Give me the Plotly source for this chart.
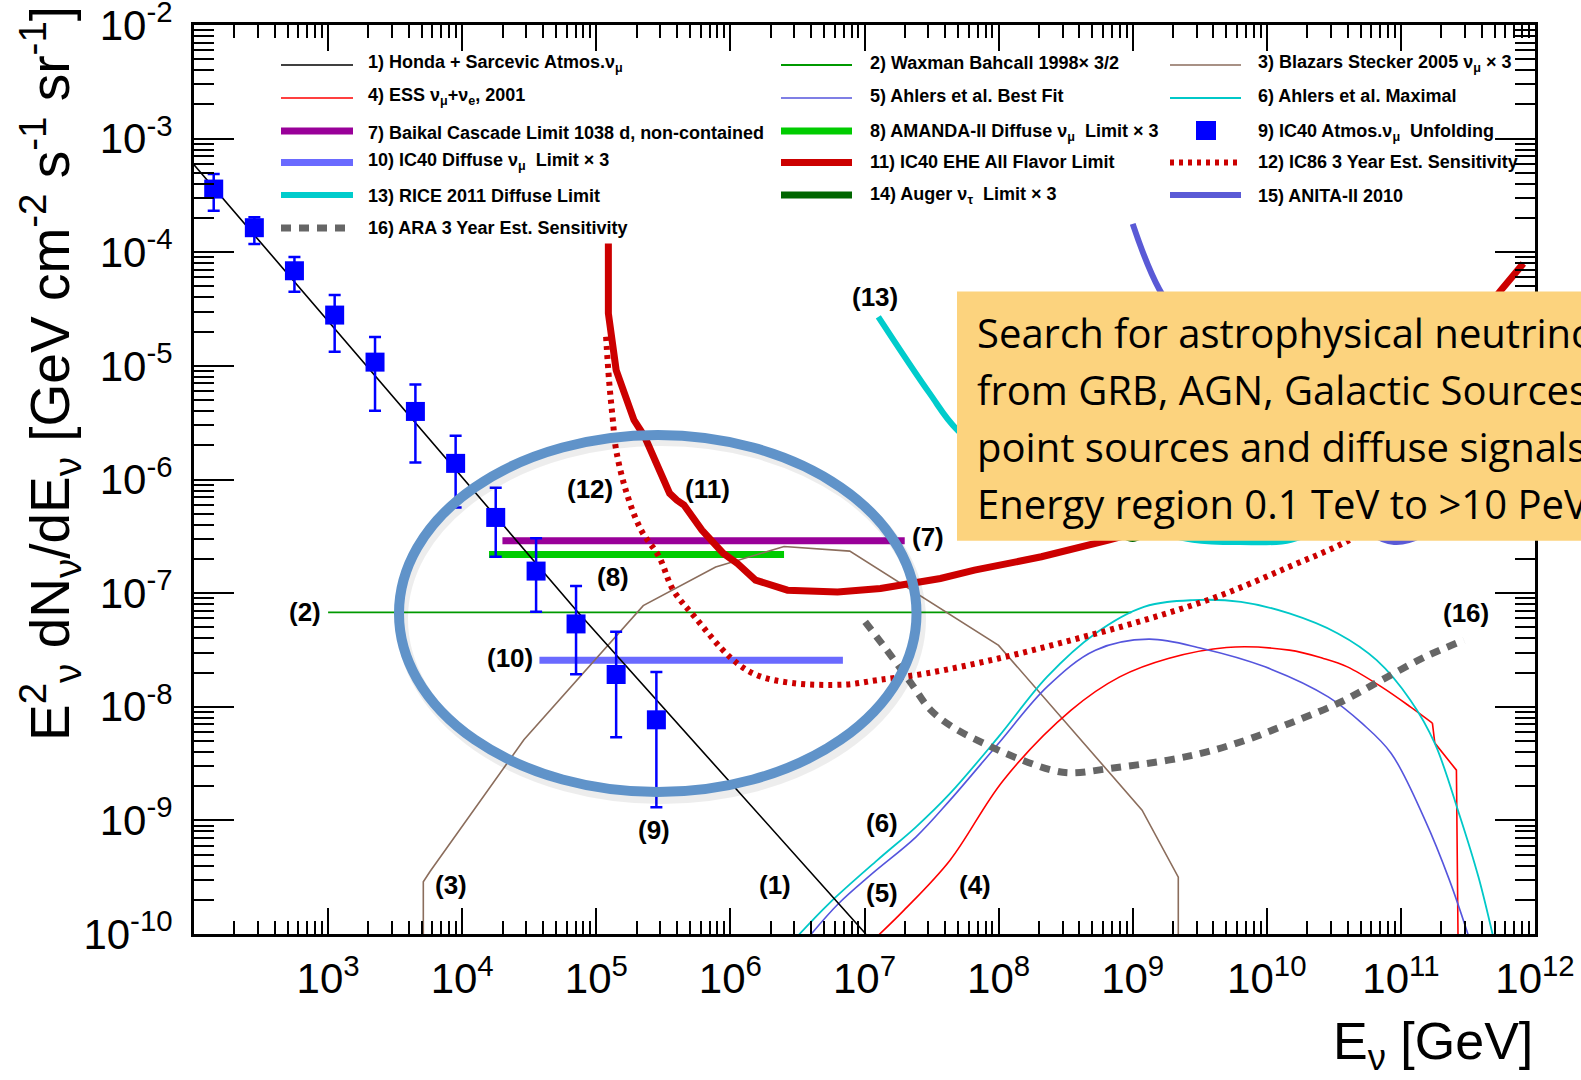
import numpy as np
import plotly.graph_objects as go

# ---------------- data (log10 E/GeV , log10 E^2 dN/dE) ----------------
honda_logE = [2.0, 4.85, 7.01]
honda_logF = [-3.23, -7.15, -10.0]

wb_logE = [3.0, 8.99]
wb_logF = [-7.17, -7.17]

stecker_logE = [3.71, 3.71, 3.76, 4.46, 5.35, 5.89, 6.40, 6.89, 8.00, 9.07, 9.34, 9.34]
stecker_logF = [-10.03, -9.54, -9.45, -8.29, -7.11, -6.77, -6.59, -6.63, -7.46, -8.91, -9.50, -10.03]

ess_logE = [7.096, 7.295, 7.638, 8.036, 8.541, 8.903, 9.265, 9.699, 10.168, 10.422, 10.601,
            10.855, 11.071, 11.235]
ess_logF = [-10.02, -9.79, -9.35, -8.646, -8.03, -7.737, -7.575, -7.478, -7.502, -7.575, -7.649,
            -7.825, -8.001, -8.144]
ess_cut_logE = [11.235, 11.253, 11.414, 11.426]
ess_cut_logF = [-8.144, -8.32, -8.558, -10.02]

ahlers_best_logE = [6.589, 6.807, 7.059, 7.385, 7.638, 7.999, 8.361, 8.722, 9.120, 9.517, 9.987,
                    10.458, 10.711, 10.928, 11.180, 11.362, 11.505]
ahlers_best_logF = [-10.02, -9.732, -9.467, -9.145, -8.822, -8.323, -7.825, -7.502, -7.405, -7.487,
                    -7.649, -7.913, -8.147, -8.411, -8.998, -9.526, -10.02]

ahlers_max_logE = [6.500, 6.735, 7.096, 7.385, 7.638, 7.999, 8.361, 8.722, 9.084, 9.445, 9.807,
                   10.168, 10.530, 10.819, 11.071, 11.253, 11.433, 11.578, 11.687]
ahlers_max_logF = [-10.02, -9.732, -9.350, -9.057, -8.763, -8.265, -7.737, -7.355, -7.121, -7.062,
                   -7.077, -7.179, -7.355, -7.590, -7.942, -8.323, -8.939, -9.497, -10.02]

baikal_logE = [4.30, 7.30]
baikal_logF = [-6.54, -6.54]

amanda_logE = [4.20, 6.40]
amanda_logF = [-6.66, -6.66]

ic40_diff_logE = [4.576, 6.839]
ic40_diff_logF = [-7.59, -7.59]

ehe_logE = [5.090, 5.090, 5.148, 5.281, 5.361, 5.547, 5.600, 5.654, 5.787, 5.947, 6.052, 6.187,
            6.426, 6.799, 7.119, 7.566, 7.820, 8.319, 8.819, 9.3, 9.8, 10.3, 10.8, 11.3, 11.747, 11.913]
ehe_logF = [-3.922, -4.538, -5.037, -5.477, -5.624, -6.122, -6.181, -6.225, -6.445, -6.650, -6.739,
            -6.885, -6.974, -6.989, -6.959, -6.871, -6.798, -6.680, -6.533, -6.38, -6.15, -5.88,
            -5.52, -5.0, -4.333, -4.098]

ic86_logE = [5.073, 5.095, 5.121, 5.148, 5.227, 5.334, 5.468, 5.574, 5.734, 6.0, 6.186, 6.453,
             6.852, 7.096, 7.457, 7.999, 8.541, 9.084, 9.626, 10.168, 10.616, 11.0]
ic86_logF = [-4.744, -5.125, -5.448, -5.741, -6.122, -6.445, -6.680, -6.974, -7.209, -7.567, -7.716,
             -7.790, -7.805, -7.766, -7.707, -7.575, -7.414, -7.238, -7.033, -6.768, -6.533, -6.25]

rice_logE = [7.103, 7.486, 7.693, 8.3, 9.0, 9.45, 9.8, 10.18, 10.6, 11.2, 12.0]
rice_logF = [-4.568, -5.242, -5.565, -6.1, -6.40, -6.53, -6.55, -6.53, -6.3, -5.5, -4.5]

auger_logE = [8.0, 8.3, 8.6, 8.9, 9.0, 9.1, 9.3, 9.8, 10.5, 11.0]
auger_logF = [-5.2, -5.8, -6.25, -6.47, -6.52, -6.47, -6.38, -6.1, -5.5, -5.0]

anita_logE = [9.0, 9.2, 9.6, 10.0, 10.5, 10.95, 11.4, 12.0]
anita_logF = [-3.75, -4.33, -5.0, -5.6, -6.2, -6.55, -6.3, -5.6]

ara_logE = [7.005, 7.204, 7.349, 7.494, 7.674, 7.891, 8.144, 8.398, 8.541, 8.831, 9.265, 9.554,
            9.843, 10.168, 10.529, 10.855, 11.180, 11.470]
ara_logF = [-7.253, -7.561, -7.795, -8.030, -8.191, -8.323, -8.455, -8.558, -8.582, -8.543, -8.470,
            -8.397, -8.294, -8.147, -7.971, -7.766, -7.561, -7.415]

unf_logE = [2.147, 2.450, 2.749, 3.049, 3.350, 3.651, 3.951, 4.250, 4.551, 4.849, 5.148, 5.448]
unf_logF = [-3.444, -3.784, -4.163, -4.553, -4.967, -5.401, -5.858, -6.334, -6.806, -7.271, -7.716, -8.115]
unf_logHi = [-3.312, -3.693, -4.042, -4.377, -4.746, -5.163, -5.615, -6.073, -6.518, -6.938, -7.339, -7.695]
unf_logLo = [-3.635, -3.928, -4.348, -4.876, -5.395, -5.850, -6.246, -6.680, -7.165, -7.713, -8.268, -8.884]

x_tick_exponents = [3, 4, 5, 6, 7, 8, 9, 10, 11, 12]
y_tick_exponents = [-10, -9, -8, -7, -6, -5, -4, -3, -2]

legend_names = {
    1: "1) Honda + Sarcevic Atmos.ν<sub>μ</sub>",
    2: "2) Waxman Bahcall 1998× 3/2",
    3: "3) Blazars Stecker 2005 ν<sub>μ</sub> × 3",
    4: "4) ESS ν<sub>μ</sub>+ν<sub>e</sub>, 2001",
    5: "5) Ahlers et al. Best Fit",
    6: "6) Ahlers et al. Maximal",
    7: "7) Baikal Cascade Limit 1038 d, non-contained",
    8: "8) AMANDA-II Diffuse ν<sub>μ</sub>  Limit × 3",
    9: "9) IC40 Atmos.ν<sub>μ</sub>  Unfolding",
    10: "10) IC40 Diffuse ν<sub>μ</sub>  Limit × 3",
    11: "11) IC40 EHE All Flavor Limit",
    12: "12) IC86 3 Year Est. Sensitivity",
    13: "13) RICE 2011 Diffuse Limit",
    14: "14) Auger ν<sub>τ</sub>  Limit × 3",
    15: "15) ANITA-II 2010",
    16: "16) ARA 3 Year Est. Sensitivity",
}

box_lines = ["Search for astrophysical neutrinos",
             "from GRB, AGN, Galactic Sources,",
             "point sources and diffuse signals",
             "Energy region 0.1 TeV to >10 PeV"]

# ---------------- layout geometry ----------------
W, H = 1581, 1080
ML, MR, MT, MB = 194, 46, 25, 146
PW = W - ML - MR
PH = H - MT - MB


def px(x):
    return (x - ML) / PW


def py(y):
    return (H - MB - y) / PH


def p10(a):
    return 10 ** np.array(a, dtype=float)


styles = {
    1: dict(color="#000000", width=1.6),
    2: dict(color="#009900", width=1.8),
    3: dict(color="#8b6d5c", width=1.6),
    4: dict(color="#ff0000", width=1.6),
    5: dict(color="#5555dd", width=1.6),
    6: dict(color="#00c8c8", width=1.8),
    7: dict(color="#990099", width=7),
    8: dict(color="#00cc00", width=7),
    10: dict(color="#6a6aff", width=7),
    11: dict(color="#cc0000", width=7),
    12: dict(color="#cc0000", width=6, dash="4px,5px"),
    13: dict(color="#00cccc", width=6),
    14: dict(color="#006600", width=7),
    15: dict(color="#5a5ad6", width=6),
    16: dict(color="#666666", width=7, dash="10px,8px"),
}

fig = go.Figure()


def add_line(key, lx, ly, shape="linear"):
    fig.add_trace(go.Scatter(x=p10(lx), y=p10(ly), mode="lines", name=legend_names[key],
                             line=dict(shape=shape, **styles[key]),
                             showlegend=False, hoverinfo="skip"))


add_line(7, baikal_logE, baikal_logF)
add_line(8, amanda_logE, amanda_logF)
add_line(10, ic40_diff_logE, ic40_diff_logF)
add_line(13, rice_logE, rice_logF, "spline")
add_line(14, auger_logE, auger_logF, "spline")
add_line(15, anita_logE, anita_logF, "spline")
add_line(2, wb_logE, wb_logF)
add_line(3, stecker_logE, stecker_logF)
add_line(4, ess_logE, ess_logF, "spline")
add_line(4, ess_cut_logE, ess_cut_logF)
add_line(5, ahlers_best_logE, ahlers_best_logF, "spline")
add_line(6, ahlers_max_logE, ahlers_max_logF, "spline")
add_line(16, ara_logE, ara_logF, "spline")
add_line(11, ehe_logE, ehe_logF)
add_line(12, ic86_logE, ic86_logF, "spline")
add_line(1, honda_logE, honda_logF)

uf = p10(unf_logF)
fig.add_trace(go.Scatter(
    x=p10(unf_logE), y=uf, mode="markers", name=legend_names[9],
    marker=dict(symbol="square", size=19, color="#0000ff"),
    error_y=dict(type="data", symmetric=False, array=p10(unf_logHi) - uf,
                 arrayminus=uf - p10(unf_logLo), color="#0000ff", thickness=2.5, width=6),
    showlegend=False, hoverinfo="skip"))

# ---------------- axes ----------------
minor_x = [k * 10.0 ** n for n in range(2, 12) for k in range(2, 10)]
minor_y = [k * 10.0 ** n for n in range(-10, -2) for k in range(2, 10)]
tick_font = dict(family="Liberation Sans, Arial, sans-serif", size=42, color="black")

fig.update_xaxes(type="log", range=[2, 12], showline=True, linewidth=3, linecolor="black",
                 mirror="allticks", ticks="inside", ticklen=26, tickwidth=2, tickcolor="black",
                 tickmode="array", tickvals=[10.0 ** n for n in x_tick_exponents],
                 ticktext=[f"10<sup>{n}</sup>" for n in x_tick_exponents],
                 tickfont=tick_font, showgrid=False, zeroline=False, ticklabelstandoff=6,
                 ticklabeloverflow="allow",
                 minor=dict(ticks="inside", ticklen=13, tickwidth=2, tickcolor="black",
                            tickmode="array", tickvals=minor_x, showgrid=False))
fig.update_yaxes(type="log", range=[-10, -2], showline=True, linewidth=3, linecolor="black",
                 mirror="allticks", ticks="inside", ticklen=40, tickwidth=2, tickcolor="black",
                 tickmode="array", tickvals=[10.0 ** n for n in y_tick_exponents],
                 ticktext=[f"10<sup>{n}</sup>" for n in y_tick_exponents],
                 tickfont=tick_font, showgrid=False, zeroline=False, ticklabelstandoff=10,
                 ticklabeloverflow="allow",
                 minor=dict(ticks="inside", ticklen=20, tickwidth=2, tickcolor="black",
                            tickmode="array", tickvals=minor_y, showgrid=False))

shapes = []
annotations = []

# ---------------- legend (drawn by hand) ----------------
col_sample = {0: (281, 353), 1: (781, 852), 2: (1170, 1241)}
col_text = {0: 366, 1: 868, 2: 1256}
row_y = [65, 98, 131, 162.5, 195, 228]
text_dy = [-1.5, -1.5, 1.5, -1, 1, 0]
leg_font = dict(family="Liberation Sans, Arial, sans-serif", size=18, color="black", weight="bold")
for key in range(1, 17):
    col = (key - 1) % 3
    row = (key - 1) // 3
    y = row_y[row]
    x0, x1 = col_sample[col]
    if key == 9:
        shapes.append(dict(type="rect", xref="paper", yref="paper", x0=px(1196), x1=px(1216),
                           y0=py(140), y1=py(121), fillcolor="#0000ff", line=dict(width=0),
                           layer="above"))
    else:
        st = styles[key]
        shapes.append(dict(type="line", xref="paper", yref="paper", x0=px(x0), x1=px(x1),
                           y0=py(y), y1=py(y), layer="above",
                           line=dict(color=st["color"], width=st["width"], dash=st.get("dash", "solid"))))
    annotations.append(dict(text=legend_names[key], xref="paper", yref="paper", x=px(col_text[col]),
                            y=py(y + text_dy[row]), xanchor="left", yanchor="middle", showarrow=False,
                            font=leg_font))

# ---------------- curve labels ----------------
curve_labels = [("(1)", 774.6, 885), ("(2)", 304.5, 612), ("(3)", 450.7, 885), ("(4)", 974.9, 885),
                ("(5)", 881.8, 893.3), ("(6)", 881.8, 823.3), ("(7)", 928, 537), ("(8)", 612.9, 577.3),
                ("(9)", 654.3, 830), ("(10)", 510.4, 658.3), ("(11)", 707.9, 489.3),
                ("(12)", 590, 489.3), ("(13)", 874.6, 296.7), ("(16)", 1465.9, 613.3)]
for t, x, y in curve_labels:
    annotations.append(dict(text=t, xref="paper", yref="paper", x=px(x), y=py(y), xanchor="center",
                            yanchor="middle", showarrow=False,
                            font=dict(family="Liberation Sans, Arial, sans-serif", size=26,
                                      color="black", weight="bold")))

# ---------------- ellipse highlight ----------------
shapes.append(dict(type="circle", xref="paper", yref="paper", x0=px(402), x1=px(920),
                   y0=py(798), y1=py(440), line=dict(color="rgba(0,0,0,0.07)", width=12),
                   layer="above"))
shapes.append(dict(type="circle", xref="paper", yref="paper", x0=px(399), x1=px(916.5),
                   y0=py(792), y1=py(435), line=dict(color="#6093c9", width=10), layer="above"))

# ---------------- text box ----------------
shapes.append(dict(type="rect", xref="paper", yref="paper", x0=px(957), x1=px(1620),
                   y0=py(540.7), y1=py(291.5), fillcolor="#fcd37e", line=dict(width=0),
                   layer="above"))
for i, line in enumerate(box_lines):
    annotations.append(dict(text=line, xref="paper", yref="paper", x=px(975), y=py(332 + 57 * i),
                            xanchor="left", yanchor="middle", showarrow=False,
                            font=dict(family="Open Sans, Lato, sans-serif", size=40, color="black")))

# ---------------- axis titles ----------------
annotations.append(dict(text="E<sup>2</sup><sub>ν</sub> dN<sub>ν</sub>/dE<sub>ν</sub> [GeV cm<sup>-2</sup> s<sup>-1</sup> sr<sup>-1</sup>]",
                        xref="paper", yref="paper", x=px(50), y=py(374), xanchor="center",
                        yanchor="middle", textangle=-90, showarrow=False,
                        font=dict(family="Liberation Sans, Arial, sans-serif", size=55, color="black")))
annotations.append(dict(text="E<sub>ν</sub> [GeV]", xref="paper", yref="paper", x=1.0, y=py(1045),
                        xanchor="right", yanchor="middle", showarrow=False,
                        font=dict(family="Liberation Sans, Arial, sans-serif", size=52, color="black")))

fig.update_layout(width=W, height=H, margin=dict(l=ML, r=MR, t=MT, b=MB, autoexpand=False),
                  paper_bgcolor="white", plot_bgcolor="white", showlegend=False,
                  shapes=shapes, annotations=annotations)

fig.write_html("out.html")
